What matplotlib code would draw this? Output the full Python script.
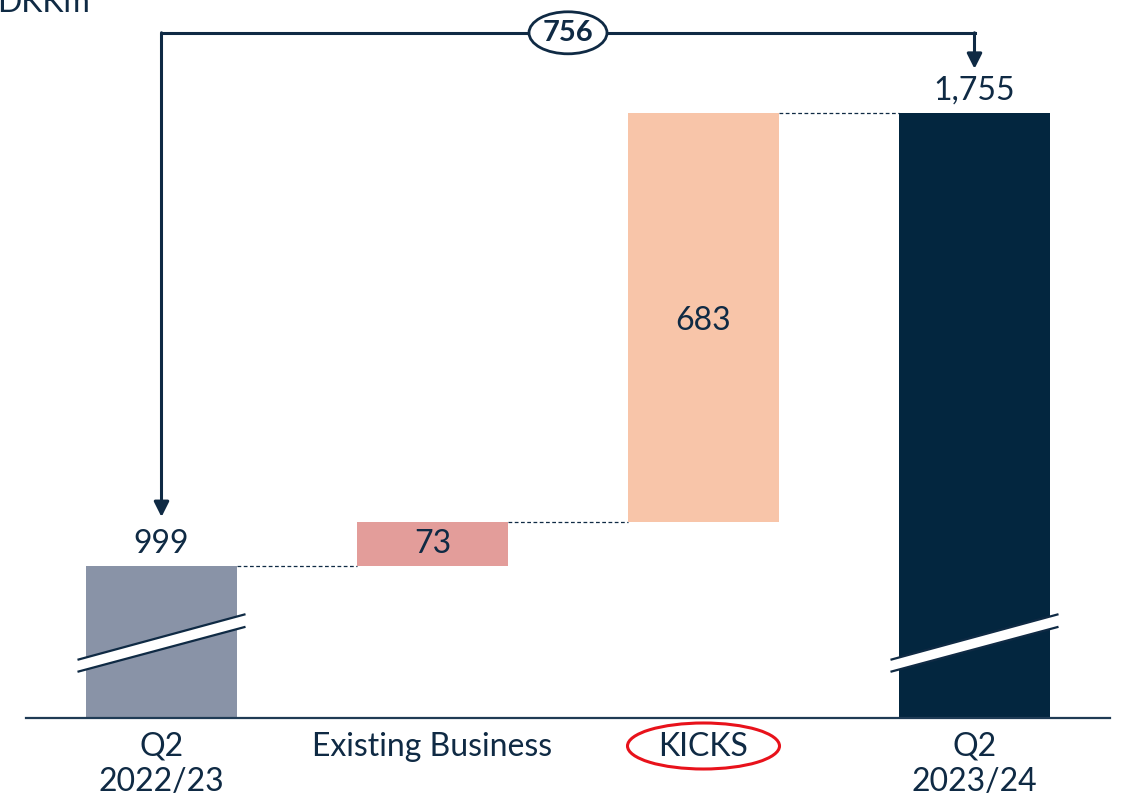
import matplotlib
matplotlib.use('Agg')
import matplotlib.pyplot as plt
from matplotlib.patches import Ellipse, Polygon

# ---- data ----
categories = ['Q2\n2022/23', 'Existing Business', 'KICKS', 'Q2\n2023/24']
start_value = 999
changes = [73, 683]
end_value = 1755
total_change = 756
value_labels = ['999', '73', '683', '1,755']
unit_label = 'DKKm'
axis_floor = 746  # broken axis: bars start from this value

colors = ['#8993a7', '#e39d9a', '#f8c5a9', '#03263f']
navy = '#0f2a44'
red = '#e8121b'

plt.rcParams['font.family'] = ['Lato', 'DejaVu Sans']

W, H = 1121, 800
fig = plt.figure(figsize=(W / 100, H / 100), dpi=100)
ax = fig.add_axes([26 / W, 82 / H, 1084 / W, 718 / H])

px_per_unit = 0.6
ax.set_xlim(-0.5, 3.5)
ax.set_ylim(axis_floor, axis_floor + 718 / px_per_unit)

xs = list(range(len(categories)))
bottoms = [0, start_value, start_value + changes[0], 0]
heights = [start_value, changes[0], changes[1], end_value]
tops = [b + h for b, h in zip(bottoms, heights)]
bw = 0.555
ax.bar(xs, heights, bottom=bottoms, width=bw, color=colors, zorder=2)

# connectors
for i in range(3):
    ax.plot([xs[i] + bw / 2, xs[i + 1] - bw / 2], [tops[i], tops[i]],
            ls=(0, (3, 2)), color=navy, lw=0.9, zorder=1)

fs = 23
# value labels
ax.annotate(value_labels[0], (xs[0], tops[0]), xytext=(0, 5), textcoords='offset points',
            ha='center', va='bottom', fontsize=fs, color=navy)
ax.annotate(value_labels[3], (xs[3], tops[3]), xytext=(0, 5), textcoords='offset points',
            ha='center', va='bottom', fontsize=fs, color=navy)
ax.text(xs[1], bottoms[1] + heights[1] / 2, value_labels[1], ha='center', va='center',
        fontsize=fs, color=navy, zorder=3)
ax.text(xs[2], bottoms[2] + heights[2] / 2 - 5, value_labels[2], ha='center', va='center',
        fontsize=fs, color=navy, zorder=3)

# axis break marks
for xi in (xs[0], xs[3]):
    x0, x1 = xi - 0.31, xi + 0.31
    poly = Polygon([(x0, 823), (x1, 898), (x1, 919), (x0, 843)], closed=True,
                   fc='white', ec='none', zorder=4, clip_on=False)
    ax.add_patch(poly)
    ax.plot([x0, x1], [823, 898], color=navy, lw=1.6, zorder=5, solid_capstyle='butt')
    ax.plot([x0, x1], [843, 919], color=navy, lw=1.6, zorder=5, solid_capstyle='butt')

# bracket with total change
bracket_y = tops[3] + 133
tip_left = tops[0] + 82
tip_right = tops[3] + 73
ax.plot([xs[0], xs[3]], [bracket_y, bracket_y], color=navy, lw=2.2, zorder=3,
        solid_capstyle='projecting', clip_on=False)
for xi, tip in ((xs[0], tip_left), (xs[3], tip_right)):
    ax.annotate('', xy=(xi, tip), xytext=(xi, bracket_y),
                arrowprops=dict(arrowstyle='-|>,head_length=0.9,head_width=0.45',
                                color=navy, lw=2.2, shrinkA=0, shrinkB=0),
                annotation_clip=False)
cx = (xs[0] + xs[3]) / 2
ax.add_patch(Ellipse((cx, bracket_y), 78 / 271, 42 / px_per_unit, fc='white', ec=navy,
                     lw=2.0, zorder=6, clip_on=False))
ax.text(cx, bracket_y, str(total_change), ha='center', va='center', fontsize=fs - 2,
        fontweight='bold', color=navy, zorder=7)

# KICKS highlight
ax.add_patch(Ellipse((xs[2], axis_floor - 28 / px_per_unit), 152 / 271, 46 / px_per_unit,
                     fc='none', ec=red, lw=2.2, clip_on=False, zorder=6))

# axes styling
ax.set_xticks(xs, categories, fontsize=fs, color=navy, linespacing=1.2)
ax.tick_params(axis='x', length=0, pad=10)
ax.set_yticks([])
for s in ('top', 'right', 'left'):
    ax.spines[s].set_visible(False)
ax.spines['bottom'].set_color('#1f3b55')
ax.spines['bottom'].set_linewidth(1.6)

fig.text(-3 / W, 1 - 12 / H, unit_label, ha='left', va='baseline', fontsize=fs, color=navy)

fig.savefig('out.png', dpi=100)
